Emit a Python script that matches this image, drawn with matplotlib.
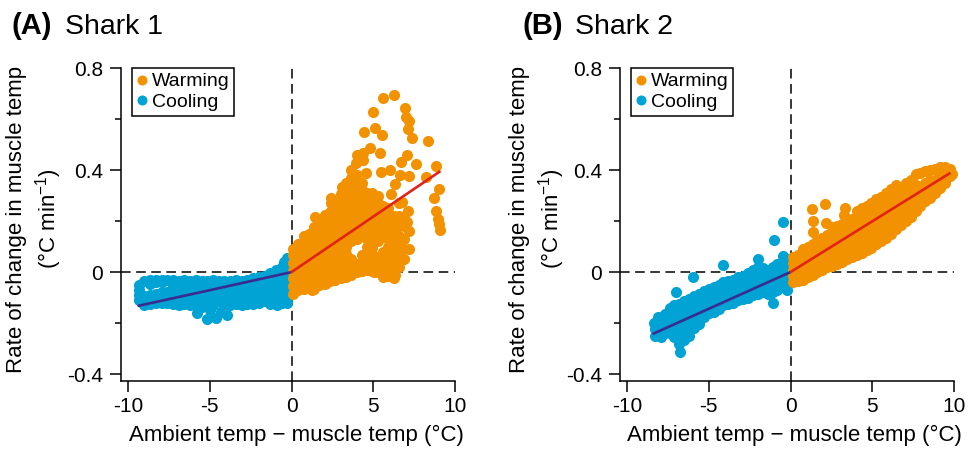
import matplotlib
matplotlib.use('Agg')
import matplotlib.pyplot as plt
from matplotlib.lines import Line2D

plt.rcParams['font.family'] = ['Liberation Sans', 'DejaVu Sans']
plt.rcParams['mathtext.fontset'] = 'custom'
plt.rcParams['mathtext.rm'] = 'Liberation Sans'
plt.rcParams['mathtext.it'] = 'Liberation Sans:italic'
plt.rcParams['axes.unicode_minus'] = False

# ---------------- data ----------------
shark1_warming = [
    (0.12,-0.085),(0.12,-0.055),(0.12,-0.025),(0.12,0.005),(0.12,0.035),(0.12,0.065),(0.12,0.09),
    (0.42,-0.07),(0.42,-0.04),(0.42,-0.01),(0.42,0.02),(0.42,0.05),(0.42,0.08),(0.42,0.11),
    (0.75,-0.065),(0.75,-0.035),(0.75,-0.005),(0.75,0.025),(0.75,0.055),(0.75,0.085),(0.75,0.115),(0.75,0.14),
    (1.05,-0.06),(1.05,-0.03),(1.05,0.0),(1.05,0.03),(1.05,0.06),(1.05,0.09),(1.05,0.12),(1.05,0.15),
    (1.38,-0.065),(1.38,-0.035),(1.38,-0.005),(1.38,0.025),(1.38,0.055),(1.38,0.085),(1.38,0.115),(1.38,0.145),(1.38,0.175),(1.45,0.215),
    (1.7,-0.05),(1.7,-0.02),(1.7,0.01),(1.7,0.04),(1.7,0.07),(1.7,0.10),(1.7,0.13),(1.7,0.16),(1.7,0.19),
    (2.02,-0.045),(2.02,-0.015),(2.02,0.015),(2.02,0.045),(2.02,0.075),(2.02,0.105),(2.02,0.135),(2.02,0.165),(2.02,0.195),(2.02,0.225),
    (2.35,-0.035),(2.35,-0.005),(2.35,0.025),(2.35,0.055),(2.35,0.085),(2.35,0.115),(2.35,0.145),(2.35,0.175),(2.35,0.205),(2.35,0.235),(2.39,0.27),(2.39,0.29),
    (2.68,-0.03),(2.68,0.0),(2.68,0.03),(2.68,0.06),(2.68,0.09),(2.68,0.12),(2.68,0.15),(2.68,0.18),(2.68,0.21),(2.68,0.24),(2.68,0.27),
    (3.0,-0.025),(3.0,0.005),(3.0,0.035),(3.0,0.065),(3.0,0.095),(3.0,0.125),(3.0,0.155),(3.0,0.185),(3.0,0.215),(3.0,0.245),(3.0,0.275),(3.0,0.305),(3.1,0.335),
    (3.32,-0.02),(3.32,0.01),(3.32,0.04),(3.32,0.07),(3.32,0.10),(3.32,0.13),(3.32,0.16),(3.32,0.19),(3.32,0.22),(3.32,0.25),(3.32,0.28),(3.32,0.31),(3.32,0.35),
    (3.65,-0.01),(3.65,0.02),(3.65,0.05),(3.65,0.12),(3.65,0.15),(3.65,0.18),(3.65,0.21),(3.65,0.24),(3.65,0.27),(3.65,0.30),(3.65,0.33),(3.65,0.37),
    (3.98,0.0),(3.98,0.03),(3.98,0.13),(3.98,0.16),(3.98,0.19),(3.98,0.22),(3.98,0.25),(3.98,0.28),(3.98,0.31),(3.98,0.34),(3.98,0.38),(3.93,0.426),(3.98,0.459),
    (4.3,0.005),(4.3,0.035),(4.3,0.065),(4.3,0.14),(4.3,0.17),(4.3,0.20),(4.3,0.23),(4.3,0.26),(4.3,0.29),(4.3,0.32),(4.3,0.35),(4.36,0.44),(4.36,0.465),
    (4.62,0.01),(4.62,0.04),(4.62,0.07),(4.62,0.10),(4.62,0.13),(4.62,0.16),(4.62,0.19),(4.62,0.22),(4.62,0.25),(4.62,0.28),(4.62,0.31),(4.53,0.387),
    (4.95,0.005),(4.95,0.035),(4.95,0.065),(4.95,0.095),(4.95,0.125),(4.95,0.155),(4.95,0.185),(4.95,0.215),(4.95,0.245),(4.95,0.275),(4.95,0.31),(4.83,0.485),
    (5.28,0.0),(5.28,0.03),(5.28,0.06),(5.28,0.12),(5.28,0.15),(5.28,0.18),(5.28,0.21),(5.28,0.24),(5.28,0.27),(5.28,0.30),
    (5.6,-0.02),(5.6,0.02),(5.6,0.05),(5.6,0.08),(5.6,0.14),(5.6,0.17),(5.6,0.20),(5.6,0.23),(5.6,0.26),
    (5.92,-0.015),(5.92,0.025),(5.92,0.06),(5.92,0.10),(5.92,0.13),(5.92,0.16),(5.92,0.19),(5.92,0.22),(5.92,0.25),
    (6.25,-0.025),(6.25,0.01),(6.25,0.05),(6.25,0.09),(6.25,0.12),(6.25,0.15),(6.25,0.19),(6.25,0.22),
    (6.58,0.02),(6.58,0.06),(6.58,0.10),(6.58,0.14),(6.58,0.18),(6.58,0.22),(6.6,0.27),
    (6.9,0.05),(6.9,0.09),(6.9,0.13),(6.9,0.18),(6.9,0.21),(7.05,0.195),
    (7.2,0.09),(7.2,0.16),(7.1,0.24),
    (5.61,0.681),(6.28,0.693),(4.97,0.629),(6.93,0.642),(7.01,0.609),(7.18,0.592),
    (7.14,0.560),(7.36,0.527),(4.46,0.550),(5.10,0.566),(5.55,0.537),(8.34,0.513),
    (5.44,0.465),(7.08,0.459),(6.71,0.430),(7.60,0.424),(8.81,0.416),
    (6.01,0.400),(5.49,0.391),(6.63,0.380),(7.18,0.376),
    (8.20,0.374),(3.65,0.400),(6.36,0.346),(9.01,0.324),(8.71,0.289),
    (6.10,0.308),(6.73,0.276),(8.81,0.240),(8.95,0.207),(9.01,0.190),
    (9.11,0.165),(0.86,0.138),(6.77,0.217),(6.16,0.158),(6.67,0.099),
    (6.36,-0.012),(5.03,0.001),(3.71,0.008),(2.08,-0.044),(1.27,-0.071),
]

shark1_cooling = [
    (-9.35,-0.05),(-9.35,-0.07),(-9.35,-0.09),(-9.35,-0.11),
    (-9.0,-0.035),(-9.0,-0.095),(-9.0,-0.115),(-9.0,-0.13),
    (-8.65,-0.03),(-8.65,-0.045),(-8.65,-0.09),(-8.65,-0.11),(-8.65,-0.125),
    (-8.3,-0.03),(-8.3,-0.04),(-8.3,-0.085),(-8.3,-0.105),(-8.3,-0.12),
    (-7.95,-0.03),(-7.95,-0.04),(-7.95,-0.08),(-7.95,-0.10),(-7.95,-0.12),
    (-7.6,-0.03),(-7.6,-0.08),(-7.6,-0.10),(-7.6,-0.12),
    (-7.25,-0.03),(-7.25,-0.055),(-7.25,-0.08),(-7.25,-0.105),(-7.25,-0.125),
    (-6.9,-0.035),(-6.9,-0.06),(-6.9,-0.085),(-6.9,-0.11),(-6.9,-0.13),
    (-6.55,-0.03),(-6.55,-0.055),(-6.55,-0.08),(-6.55,-0.105),(-6.55,-0.125),
    (-6.2,-0.035),(-6.2,-0.06),(-6.2,-0.085),(-6.2,-0.11),(-6.2,-0.13),
    (-5.85,-0.03),(-5.85,-0.055),(-5.85,-0.08),(-5.85,-0.105),(-5.85,-0.13),(-5.77,-0.162),
    (-5.5,-0.035),(-5.5,-0.06),(-5.5,-0.085),(-5.5,-0.11),(-5.5,-0.135),
    (-5.15,-0.035),(-5.15,-0.06),(-5.15,-0.085),(-5.15,-0.11),(-5.0,-0.15),(-5.2,-0.182),
    (-4.8,-0.03),(-4.8,-0.055),(-4.8,-0.08),(-4.8,-0.105),(-4.8,-0.13),(-4.6,-0.179),
    (-4.45,-0.035),(-4.45,-0.06),(-4.45,-0.085),(-4.45,-0.11),(-4.3,-0.155),
    (-4.1,-0.035),(-4.1,-0.06),(-4.1,-0.085),(-4.1,-0.11),(-4.1,-0.135),(-3.93,-0.169),
    (-3.75,-0.035),(-3.75,-0.06),(-3.75,-0.085),(-3.75,-0.11),(-3.75,-0.13),
    (-3.4,-0.03),(-3.4,-0.055),(-3.4,-0.08),(-3.4,-0.105),(-3.4,-0.125),
    (-3.05,-0.035),(-3.05,-0.06),(-3.05,-0.085),(-3.05,-0.11),(-3.05,-0.13),
    (-2.7,-0.03),(-2.7,-0.055),(-2.7,-0.08),(-2.7,-0.105),(-2.7,-0.125),
    (-2.35,-0.025),(-2.35,-0.05),(-2.35,-0.075),(-2.35,-0.10),(-2.35,-0.125),
    (-2.0,-0.02),(-2.0,-0.045),(-2.0,-0.07),(-2.0,-0.095),(-2.0,-0.12),
    (-1.65,-0.015),(-1.65,-0.04),(-1.65,-0.065),(-1.65,-0.09),(-1.65,-0.115),
    (-1.3,-0.005),(-1.3,-0.03),(-1.3,-0.055),(-1.3,-0.08),(-1.3,-0.105),(-1.3,-0.125),
    (-0.95,0.01),(-0.95,-0.015),(-0.95,-0.04),(-0.95,-0.065),(-0.95,-0.09),(-0.95,-0.115),(-0.88,-0.13),
    (-0.6,0.02),(-0.49,0.04),(-0.6,-0.005),(-0.6,-0.03),(-0.6,-0.055),(-0.6,-0.08),(-0.6,-0.105),(-0.6,-0.12),
    (-0.27,0.055),(-0.3,0.025),(-0.3,0.0),(-0.3,-0.025),(-0.3,-0.05),(-0.3,-0.075),(-0.3,-0.1),(-0.3,-0.12),
]

shark2_cooling = [
    (-8.3,-0.20),(-8.3,-0.225),(-8.3,-0.25),(-8.38,-0.201),
    (-8.0,-0.18),(-8.0,-0.205),(-8.0,-0.23),(-7.91,-0.254),
    (-7.7,-0.165),(-7.7,-0.19),(-7.7,-0.215),(-7.7,-0.24),
    (-7.4,-0.14),(-7.4,-0.165),(-7.4,-0.19),(-7.4,-0.215),(-7.4,-0.24),
    (-7.1,-0.13),(-7.1,-0.155),(-7.1,-0.18),(-7.1,-0.205),(-7.1,-0.23),(-7.1,-0.255),
    (-6.8,-0.125),(-6.8,-0.15),(-6.8,-0.175),(-6.8,-0.2),(-6.8,-0.225),(-6.8,-0.25),(-6.8,-0.28),(-6.79,-0.312),
    (-6.5,-0.115),(-6.5,-0.14),(-6.5,-0.165),(-6.5,-0.19),(-6.5,-0.215),(-6.5,-0.24),(-6.5,-0.265),
    (-6.2,-0.105),(-6.2,-0.13),(-6.2,-0.155),(-6.2,-0.18),(-6.2,-0.205),(-6.2,-0.23),(-6.2,-0.25),
    (-5.9,-0.095),(-5.9,-0.12),(-5.9,-0.145),(-5.9,-0.17),(-5.9,-0.195),(-5.9,-0.22),
    (-5.6,-0.085),(-5.6,-0.11),(-5.6,-0.135),(-5.6,-0.16),(-5.6,-0.185),(-5.6,-0.205),
    (-5.3,-0.075),(-5.3,-0.10),(-5.3,-0.125),(-5.3,-0.15),(-5.3,-0.175),
    (-5.0,-0.065),(-5.0,-0.09),(-5.0,-0.115),(-5.0,-0.14),(-5.0,-0.16),
    (-4.7,-0.06),(-4.7,-0.085),(-4.7,-0.11),(-4.7,-0.135),(-4.7,-0.155),
    (-4.4,-0.05),(-4.4,-0.075),(-4.4,-0.10),(-4.4,-0.125),(-4.4,-0.145),
    (-4.1,-0.04),(-4.1,-0.065),(-4.1,-0.09),(-4.1,-0.115),(-4.1,-0.13),
    (-3.8,-0.035),(-3.8,-0.06),(-3.8,-0.085),(-3.8,-0.11),(-3.8,-0.125),
    (-3.5,-0.03),(-3.5,-0.055),(-3.5,-0.08),(-3.5,-0.10),(-3.5,-0.12),
    (-3.2,-0.02),(-3.2,-0.045),(-3.2,-0.07),(-3.2,-0.095),(-3.2,-0.11),
    (-2.9,-0.015),(-2.9,-0.04),(-2.9,-0.065),(-2.9,-0.09),(-2.9,-0.105),
    (-2.6,-0.005),(-2.6,-0.03),(-2.6,-0.055),(-2.6,-0.08),(-2.6,-0.10),
    (-2.3,0.01),(-2.3,-0.02),(-2.3,-0.045),(-2.3,-0.07),(-2.3,-0.09),
    (-2.0,0.02),(-2.0,-0.01),(-2.0,-0.035),(-2.0,-0.06),(-2.0,-0.085),
    (-1.7,0.015),(-1.7,-0.01),(-1.7,-0.035),(-1.7,-0.06),(-1.7,-0.08),
    (-1.4,0.01),(-1.4,-0.015),(-1.4,-0.04),(-1.4,-0.065),(-1.4,-0.085),
    (-1.1,0.02),(-1.1,-0.005),(-1.1,-0.03),(-1.1,-0.055),(-1.1,-0.08),(-1.08,-0.123),
    (-0.8,0.03),(-0.8,0.005),(-0.8,-0.02),(-0.8,-0.045),(-0.8,-0.07),
    (-0.5,0.04),(-0.5,0.015),(-0.5,-0.01),(-0.5,-0.035),(-0.5,-0.06),
    (-0.2,0.05),(-0.2,0.025),(-0.2,0.0),(-0.2,-0.025),(-0.2,-0.05),(-0.2,-0.07),
    (-0.47,0.197),(-1.04,0.125),(-0.47,0.063),(-2.0,0.05),(-4.14,0.027),
    (-5.98,-0.018),(-7.03,-0.077),(-8.11,-0.175),
]

shark2_warming = [
    (0.15,-0.04),(0.15,-0.015),(0.15,0.01),(0.15,0.035),(0.15,0.06),
    (0.45,-0.035),(0.45,-0.01),(0.45,0.015),(0.45,0.04),(0.45,0.065),
    (0.75,-0.03),(0.75,-0.005),(0.75,0.02),(0.75,0.045),(0.75,0.07),(0.75,0.09),
    (1.05,-0.02),(1.05,0.005),(1.05,0.03),(1.05,0.055),(1.05,0.08),(1.05,0.10),
    (1.35,-0.01),(1.35,0.015),(1.35,0.04),(1.35,0.065),(1.35,0.09),(1.35,0.11),
    (1.37,0.158),(1.37,0.201),(1.31,0.246),
    (1.65,0.0),(1.65,0.025),(1.65,0.05),(1.65,0.075),(1.65,0.10),(1.65,0.125),
    (1.95,0.01),(1.95,0.035),(1.95,0.06),(1.95,0.085),(1.95,0.11),(1.95,0.135),
    (2.25,0.02),(2.25,0.045),(2.25,0.07),(2.25,0.095),(2.25,0.12),(2.25,0.145),(2.18,0.193),(2.1,0.265),
    (2.55,0.025),(2.55,0.05),(2.55,0.075),(2.55,0.10),(2.55,0.125),(2.55,0.15),(2.55,0.175),
    (2.85,0.03),(2.85,0.055),(2.85,0.08),(2.85,0.105),(2.85,0.13),(2.85,0.155),(2.85,0.18),
    (3.15,0.04),(3.15,0.065),(3.15,0.09),(3.15,0.115),(3.15,0.14),(3.15,0.165),(3.15,0.19),(3.3,0.225),(3.34,0.25),
    (3.45,0.05),(3.45,0.075),(3.45,0.10),(3.45,0.125),(3.45,0.15),(3.45,0.175),(3.45,0.20),
    (3.75,0.06),(3.75,0.085),(3.75,0.11),(3.75,0.135),(3.75,0.16),(3.75,0.185),(3.75,0.21),
    (4.05,0.065),(4.05,0.09),(4.05,0.115),(4.05,0.14),(4.05,0.165),(4.05,0.19),(4.05,0.215),(4.05,0.24),
    (4.35,0.075),(4.35,0.10),(4.35,0.125),(4.35,0.15),(4.35,0.175),(4.35,0.20),(4.35,0.225),(4.35,0.25),
    (4.65,0.085),(4.65,0.11),(4.65,0.135),(4.65,0.16),(4.65,0.185),(4.65,0.21),(4.65,0.235),(4.65,0.26),
    (4.95,0.095),(4.95,0.12),(4.95,0.145),(4.95,0.17),(4.95,0.195),(4.95,0.22),(4.95,0.245),(4.95,0.27),
    (5.25,0.11),(5.25,0.135),(5.25,0.16),(5.25,0.185),(5.25,0.21),(5.25,0.235),(5.25,0.26),(5.25,0.285),
    (5.55,0.12),(5.55,0.145),(5.55,0.17),(5.55,0.195),(5.55,0.22),(5.55,0.245),(5.55,0.27),(5.55,0.295),
    (5.85,0.135),(5.85,0.16),(5.85,0.185),(5.85,0.21),(5.85,0.235),(5.85,0.26),(5.85,0.285),(5.85,0.31),
    (6.15,0.15),(6.15,0.175),(6.15,0.20),(6.15,0.225),(6.15,0.25),(6.15,0.275),(6.15,0.30),(6.15,0.325),
    (6.45,0.17),(6.45,0.195),(6.45,0.22),(6.45,0.245),(6.45,0.27),(6.45,0.295),(6.45,0.32),(6.45,0.34),
    (6.75,0.185),(6.75,0.21),(6.75,0.235),(6.75,0.26),(6.75,0.285),(6.75,0.31),(6.75,0.335),
    (7.05,0.20),(7.05,0.225),(7.05,0.25),(7.05,0.275),(7.05,0.30),(7.05,0.325),(7.05,0.35),
    (7.35,0.215),(7.35,0.24),(7.35,0.265),(7.35,0.29),(7.35,0.315),(7.35,0.34),(7.35,0.36),
    (7.65,0.24),(7.65,0.265),(7.65,0.29),(7.65,0.315),(7.65,0.34),(7.65,0.385),
    (7.95,0.26),(7.95,0.285),(7.95,0.31),(7.95,0.335),(7.95,0.39),
    (8.25,0.28),(8.25,0.305),(8.25,0.33),(8.25,0.35),(8.25,0.395),
    (8.55,0.29),(8.55,0.315),(8.55,0.34),(8.55,0.36),(8.55,0.40),
    (8.85,0.31),(8.85,0.335),(8.85,0.36),(8.85,0.405),
    (9.15,0.33),(9.15,0.355),(9.15,0.375),(9.15,0.41),
    (9.45,0.35),(9.45,0.37),(9.45,0.39),(9.45,0.41),
    (9.75,0.375),(9.75,0.395),(9.75,0.405),(9.9,0.385),
]

# fitted curves
shark1_cool_fit_x = [-9.42, -5.0, 0.0]
shark1_cool_fit_y = [-0.133, -0.071, 0.0]
shark1_warm_fit_x = [0.0, 9.11]
shark1_warm_fit_y = [0.0, 0.396]
shark2_cool_fit_x = [-8.44, 0.0]
shark2_cool_fit_y = [-0.243, 0.0]
shark2_warm_fit_x = [0.0, 9.78]
shark2_warm_fit_y = [0.0, 0.389]

panel_letters = ["(A)", "(B)"]
panel_names = ["Shark 1", "Shark 2"]
x_ticks = [-10, -5, 0, 5, 10]
x_ticklabels = ["-10", "-5", "0", "5", "10"]
y_ticks = [-0.4, 0.0, 0.4, 0.8]
y_ticklabels = ["-0.4", "0", "0.4", "0.8"]
y_minor = [-0.2, 0.2, 0.6]
legend_labels = ["Warming", "Cooling"]

ORANGE = "#F39200"
BLUE = "#00A3D3"
RED = "#E2231A"
INDIGO = "#3A2B93"

fig = plt.figure(figsize=(9.78, 4.5), dpi=100)
W, H = 978.0, 450.0
lefts = [121, 620]
ylab_x = [35, 538]
xlab_x = [296, 794]
title_x = [(12, 65), (522, 575)]

datasets = [
    (shark1_cooling, shark1_warming, shark1_cool_fit_x, shark1_cool_fit_y, shark1_warm_fit_x, shark1_warm_fit_y),
    (shark2_cooling, shark2_warming, shark2_cool_fit_x, shark2_cool_fit_y, shark2_warm_fit_x, shark2_warm_fit_y),
]

for i in range(2):
    ax = fig.add_axes([lefts[i] / W, 1 - 381 / H, 334 / W, 313 / H])
    cool, warm, cfx, cfy, wfx, wfy = datasets[i]
    ax.set_xlim(-10.43, 10.0)
    ax.set_ylim(-0.427, 0.8)
    for s in ["top", "right"]:
        ax.spines[s].set_visible(False)
    for s in ["left", "bottom"]:
        ax.spines[s].set_linewidth(1.1)
    ax.set_xticks(x_ticks)
    ax.set_xticklabels(x_ticklabels)
    ax.set_yticks(y_ticks)
    ax.set_yticklabels(y_ticklabels)
    ax.set_yticks(y_minor, minor=True)
    ax.tick_params(axis="both", which="major", direction="out", length=7.7, width=1.1,
                   labelsize=15, pad=4)
    ax.tick_params(axis="y", which="minor", direction="out", length=4.5, width=1.1)
    ax.tick_params(axis="y", which="major", pad=5)

    ax.plot([0, 0], [-0.427, 0.8], color="black", lw=1.1, dashes=(6.3, 3.6), zorder=1, clip_on=False)
    ax.plot([-10.43, 10.0], [0, 0], color="black", lw=1.1, dashes=(6.3, 3.6), zorder=1, clip_on=False)

    cx, cy = zip(*cool)
    wx, wy = zip(*warm)
    ax.scatter(cx, cy, s=64, color=BLUE, linewidths=0, zorder=2, clip_on=False)
    ax.scatter(wx, wy, s=64, color=ORANGE, linewidths=0, zorder=3, clip_on=False)
    ax.plot(cfx, cfy, color=INDIGO, lw=1.9, zorder=4, solid_capstyle="butt")
    ax.plot(wfx, wfy, color=RED, lw=1.9, zorder=4, solid_capstyle="butt")

    handles = [Line2D([], [], marker="o", ls="none", color=ORANGE, markersize=6.2),
               Line2D([], [], marker="o", ls="none", color=BLUE, markersize=6.2)]
    leg = ax.legend(handles, legend_labels, loc="upper left", bbox_to_anchor=(0.034, 1.0),
                    frameon=True, fancybox=False, edgecolor="black", fontsize=14,
                    borderpad=0.25, handlelength=0.5, handletextpad=0.25, labelspacing=0.15,
                    borderaxespad=0.0, framealpha=1.0)
    leg.get_frame().set_linewidth(1.1)

    fig.text(ylab_x[i] / W, 1 - 219 / H, "Rate of change in muscle temp\n(°C min$^{-1}$)",
             rotation=90, ha="center", va="center", multialignment="center",
             fontsize=16, linespacing=1.3)
    fig.text(xlab_x[i] / W, 1 - 441 / H, "Ambient temp \u2212 muscle temp (°C)",
             ha="center", va="baseline", fontsize=16)
    fig.text(title_x[i][0] / W, 1 - 34 / H, panel_letters[i], fontsize=21,
             fontweight="bold", ha="left", va="baseline")
    fig.text(title_x[i][1] / W, 1 - 34 / H, panel_names[i], fontsize=20.5,
             ha="left", va="baseline")

fig.savefig("out.png", dpi=100)
